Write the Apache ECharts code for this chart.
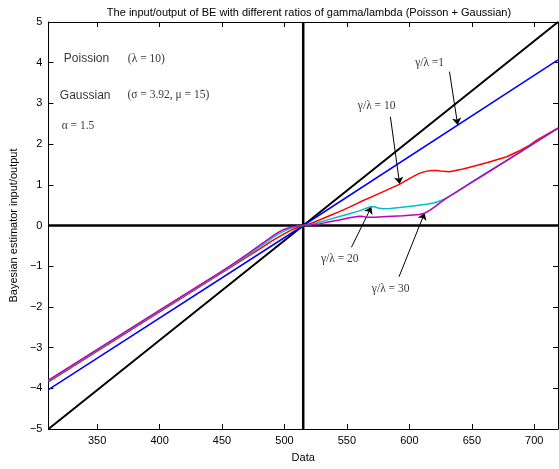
<!DOCTYPE html>
<html>
<head>
<meta charset="utf-8">
<script src="https://cdn.jsdelivr.net/npm/echarts@6/dist/echarts.min.js"></script>
<style>html,body{margin:0;padding:0;background:#fff}#c{width:559px;height:469px}</style>
</head>
<body>
<div id="c"></div>
<script>
const xTicks = [350, 400, 450, 500, 550, 600, 650, 700];
const yTicks = [-5, -4, -3, -2, -1, 0, 1, 2, 3, 4, 5];
const identityLine = [[311, -5], [515, 0], [719, 5]];
const zeroH = [[311, 0], [719, 0]];
const zeroV = [[515, -5], [515, 5]];
const ratio1 = [[311, -4.03], [515, 0], [719, 4.07]];
const ratio10 = [[311, -3.84], [400, -2.12], [450, -1.16], [460, -0.97], [470, -0.77], [480, -0.58], [490, -0.38], [500, -0.20], [505, -0.12], [510, -0.05], [515, 0], [518, 0.02], [521, 0.05], [528, 0.135], [536, 0.24], [544, 0.34], [552, 0.45], [560, 0.57], [576, 0.79], [592, 1.01], [600, 1.15], [604, 1.22], [608, 1.28], [613, 1.33], [618, 1.35], [622, 1.35], [627, 1.33], [632, 1.32], [637, 1.35], [643, 1.39], [662, 1.54], [678, 1.69], [689, 1.85], [696, 1.97], [702, 2.10], [710, 2.24], [719, 2.39]];
const ratio20 = [[311, -3.82], [400, -2.10], [450, -1.14], [460, -0.94], [470, -0.74], [480, -0.53], [490, -0.31], [495, -0.21], [500, -0.13], [505, -0.07], [510, -0.02], [515, 0], [518, 0.01], [521, 0.02], [528, 0.08], [536, 0.15], [544, 0.22], [552, 0.29], [560, 0.36], [566, 0.43], [569, 0.46], [572, 0.46], [575, 0.43], [579, 0.41], [585, 0.42], [592, 0.44], [603, 0.48], [615, 0.53], [620, 0.56], [625, 0.61], [630, 0.68], [635, 0.77], [640, 0.87], [650, 1.07], [662, 1.30], [689, 1.81], [719, 2.39]];
const ratio30 = [[311, -3.80], [400, -2.08], [450, -1.12], [460, -0.92], [470, -0.71], [480, -0.49], [490, -0.27], [495, -0.17], [500, -0.09], [505, -0.04], [510, -0.01], [515, 0], [521, 0.01], [528, 0.04], [536, 0.09], [544, 0.135], [552, 0.19], [556, 0.21], [560, 0.23], [563, 0.22], [566, 0.20], [572, 0.20], [582, 0.22], [595, 0.24], [608, 0.27], [612, 0.30], [615, 0.35], [620, 0.45], [625, 0.57], [630, 0.68], [640, 0.87], [662, 1.29], [689, 1.81], [719, 2.39]];
const textLabels = [
  {text: 'Poission', pos: [341.5, 4.09], serif: false},
  {text: '(λ = 10)', pos: [389.4, 4.09], serif: true},
  {text: 'Gaussian', pos: [340.4, 3.18], serif: false},
  {text: '(σ = 3.92, μ = 15)', pos: [407, 3.21], serif: true},
  {text: 'α = 1.5', pos: [334.7, 2.44], serif: true},
  {text: 'γ/λ =1', pos: [616.2, 3.99], serif: true},
  {text: 'γ/λ = 10', pos: [573.8, 2.94], serif: true},
  {text: 'γ/λ = 20', pos: [544.3, -0.82], serif: true},
  {text: 'γ/λ = 30', pos: [585, -1.56], serif: true}
];
const arrows = [
  [[632.1, 3.78], [638.7, 2.47]],
  [[584.8, 2.67], [592.2, 1.02]],
  [[553.6, -0.535], [569.6, 0.46]],
  [[591.7, -1.26], [612.2, 0.31]]
];

const SANS = 'Liberation Sans, Arial, sans-serif';
const SERIF = 'Liberation Serif, Times New Roman, serif';
const minus = v => String(v).replace('-', '\u2212');

function lineSeries(data, color, width, z) {
  return {type: 'line', data: data, showSymbol: false, symbol: 'none', smooth: false,
    lineStyle: {color: color, width: width, join: 'round'}, z: z, silent: true, animation: false,
    xAxisIndex: 0, yAxisIndex: 0};
}

const chart = echarts.init(document.getElementById('c'), null, {renderer: 'canvas'});
const baseX = {type: 'value', min: 311, max: 719, splitLine: {show: false},
  axisLine: {show: true, onZero: false, lineStyle: {color: '#000', width: 1}},
  axisTick: {show: true, inside: true, length: 5, customValues: xTicks, lineStyle: {color: '#000'}}};
const baseY = {type: 'value', min: -5, max: 5, interval: 1, splitLine: {show: false},
  axisLine: {show: true, onZero: false, lineStyle: {color: '#000', width: 1}},
  axisTick: {show: true, inside: true, length: 5, lineStyle: {color: '#000'}}};

chart.setOption({
  animation: false,
  title: {text: 'The input/output of BE with different ratios of gamma/lambda (Poisson + Gaussian)',
    left: 304, textAlign: 'center', top: 2,
    textStyle: {fontFamily: SANS, fontSize: 11, fontWeight: 'normal', color: '#000'}},
  grid: {left: 48, right: 1, top: 22, bottom: 40, containLabel: false},
  xAxis: [
    Object.assign({}, baseX, {position: 'bottom', name: 'Data', nameLocation: 'middle', nameGap: 23,
      nameTextStyle: {fontFamily: SANS, fontSize: 11, color: '#000'},
      axisLabel: {show: true, customValues: xTicks, margin: 6, fontFamily: SANS, fontSize: 11, color: '#000'}}),
    Object.assign({}, baseX, {position: 'top', axisLabel: {show: false}})
  ],
  yAxis: [
    Object.assign({}, baseY, {position: 'left', name: 'Bayesian estimator input/output', nameLocation: 'middle', nameGap: 27,
      nameTextStyle: {fontFamily: SANS, fontSize: 11, color: '#000'},
      axisLabel: {show: true, margin: 6, fontFamily: SANS, fontSize: 11, color: '#000', formatter: v => minus(v)}}),
    Object.assign({}, baseY, {position: 'right', axisLabel: {show: false}})
  ],
  series: [
    lineSeries(zeroH, '#000', 2.5, 2),
    lineSeries(zeroV, '#000', 2.5, 2),
    lineSeries(identityLine, '#000', 2, 3),
    lineSeries(ratio1, '#0000ff', 1.5, 4),
    lineSeries(ratio10, '#ff0000', 1.5, 5),
    lineSeries(ratio20, '#00bfbf', 1.5, 6),
    lineSeries(ratio30, '#bf00bf', 1.5, 7),
    {type: 'scatter', symbolSize: 0, silent: true, z: 10, animation: false,
      data: textLabels.map(t => ({value: t.pos, name: t.text,
        label: {show: true, position: 'inside', formatter: t.text, color: '#000',
          fontFamily: t.serif ? SERIF : SANS, fontSize: t.serif ? 11.5 : 12}})),
      markLine: {silent: true, animation: false, symbol: ['none', 'arrow'], symbolSize: 7,
        lineStyle: {color: '#000', width: 1, type: 'solid'}, label: {show: false},
        data: arrows.map(a => [{coord: a[0]}, {coord: a[1]}])}}
  ]
});
</script>
</body>
</html>
